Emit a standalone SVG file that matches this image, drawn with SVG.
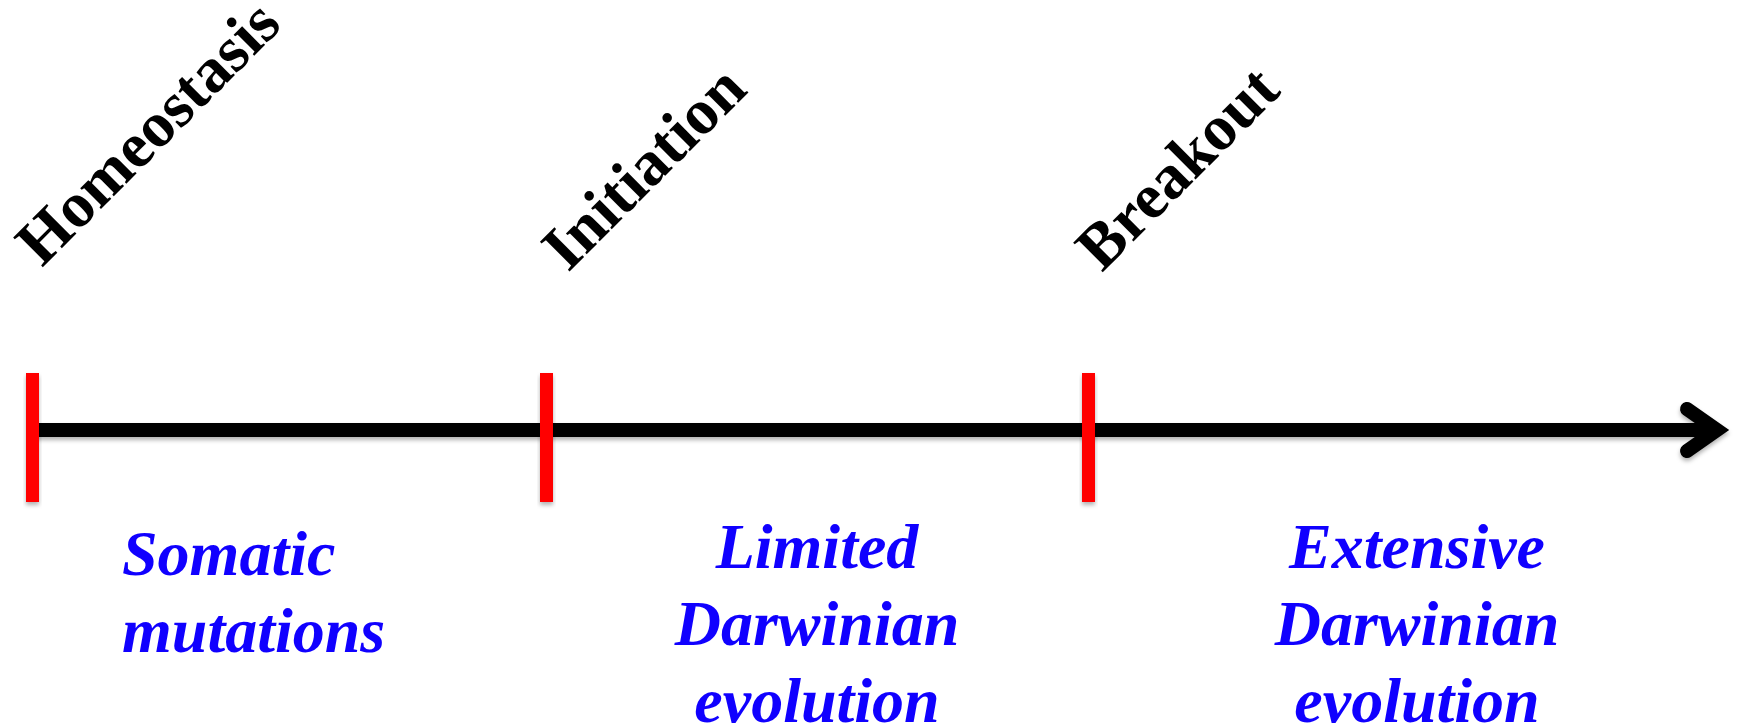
<svg xmlns="http://www.w3.org/2000/svg" width="1739" height="726" viewBox="0 0 1739 726">
<style>
.stage{font-family:"Liberation Serif","Times New Roman",serif;font-weight:bold;font-size:64px;fill:#000}
.phase{font-family:"Liberation Serif","Times New Roman",serif;font-weight:bold;font-style:italic;font-size:64px;fill:#1000FF}
.tick{fill:#FF0000}
</style>
<defs>
<filter id="sh" x="-20%" y="-20%" width="140%" height="160%">
<feDropShadow dx="0" dy="3" stdDeviation="2" flood-color="#000" flood-opacity="0.3"/>
</filter>
</defs>
<g id="connectors" filter="url(#sh)">
<line x1="33" y1="430" x2="1718" y2="430" stroke="#000" stroke-width="14"/>
<polyline points="1687,409 1717,430 1687,451" fill="none" stroke="#000" stroke-width="14" stroke-linecap="round" stroke-linejoin="miter"/>
</g>
<g id="tick-homeostasis" filter="url(#sh)"><rect class="tick" x="26" y="373" width="13" height="129"/></g>
<g id="tick-initiation" filter="url(#sh)"><rect class="tick" x="540" y="373" width="13" height="129"/></g>
<g id="tick-breakout" filter="url(#sh)"><rect class="tick" x="1082" y="373" width="13" height="129"/></g>
<g id="label-homeostasis"><text class="stage" transform="translate(42,268) rotate(-45)">Homeostasis</text></g>
<g id="label-initiation"><text class="stage" transform="translate(568,273) rotate(-45)">Initiation</text></g>
<g id="label-breakout"><text class="stage" transform="translate(1102,273) rotate(-45)">Breakout</text></g>
<g id="phase-somatic"><text class="phase" x="122" y="575">Somatic</text><text class="phase" x="122" y="652">mutations</text></g>
<g id="phase-limited" text-anchor="middle"><text class="phase" x="817" y="568">Limited</text><text class="phase" x="817" y="645">Darwinian</text><text class="phase" x="817" y="722">evolution</text></g>
<g id="phase-extensive" text-anchor="middle"><text class="phase" x="1417" y="568">Extensive</text><text class="phase" x="1417" y="645">Darwinian</text><text class="phase" x="1417" y="722">evolution</text></g>
</svg>
